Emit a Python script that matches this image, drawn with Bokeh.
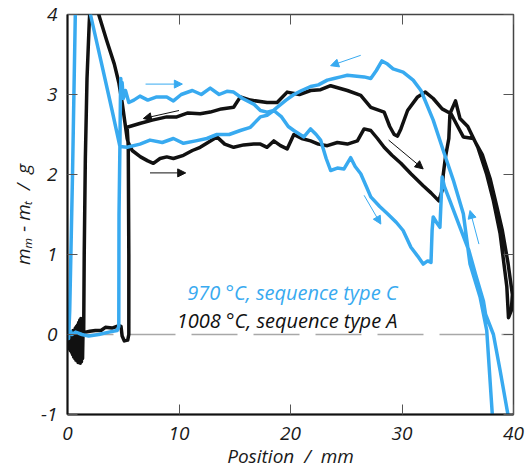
from bokeh.plotting import figure
from bokeh.models import Range1d, LinearAxis, FixedTicker, Arrow, NormalHead, Label
from bokeh.embed import file_html
from bokeh.resources import INLINE

# ---------------- data ----------------
x_ticks = [0, 10, 20, 30, 40]
y_ticks = [-1, 0, 1, 2, 3, 4]
y_tick_labels = ["-1", "0", "1", "2", "3", "4"]

zero_x = [0, 40]
zero_y = [0, 0]

# 1008 °C, sequence type A (black)
black_x = [0.00, 0.05, 0.10, 0.15, 0.20, 0.25, 0.30, 0.35, 0.40, 0.45, 0.50, 0.55, 0.60, 0.65,
           0.70, 0.75, 0.80, 0.85, 0.90, 0.95, 1.00, 1.05, 1.10, 1.15, 1.20, 1.25, 1.30, 1.35,
           1.40, 1.45, 1.50, 1.60, 1.75, 1.95, 2.12, 2.80, 3.50, 4.20, 4.60, 4.90, 5.15, 5.35,
           5.45, 5.80, 6.55, 7.20, 7.70, 8.30, 8.90, 9.50, 10.4, 11.2, 11.9, 12.6, 13.4, 14.1,
           14.9, 15.8, 16.7, 17.3, 17.9, 18.5, 19.1, 19.7, 20.3, 21.0, 21.8, 22.5, 23.3, 24.2,
           25.1, 26.0, 26.6, 27.2, 27.8, 28.4, 29.1, 29.9, 30.8, 31.9, 32.6, 33.3, 33.6, 33.7,
           33.9, 34.2, 34.3, 34.8, 35.2, 35.9, 36.8, 37.6, 38.2, 38.8, 39.1, 39.4, 39.55, 39.8,
           39.9, 39.5, 39.0, 38.5, 37.9, 37.2, 36.4, 35.5, 35.0, 34.4, 33.6, 32.8, 32.1, 31.4,
           30.5, 29.9, 29.6, 29.3, 28.9, 28.4, 27.2, 26.3, 25.1, 23.6, 22.7, 21.8, 20.8, 19.7,
           18.8, 17.9, 16.4, 15.5, 14.9, 13.8, 12.8, 11.9, 10.8, 9.8, 8.9, 7.6, 6.55, 5.35,
           5.45, 5.50, 5.50, 5.40, 5.10, 4.90, 4.80, 4.60, 4.00, 3.40, 3.00, 2.50, 2.00, 1.60]
black_y = [-0.05, -0.15, 0.00, -0.18, 0.02, -0.20, 0.00, -0.22, 0.03, -0.25, 0.05, -0.28, 0.05, -0.30,
           0.08, -0.32, 0.10, -0.33, 0.12, -0.35, 0.15, -0.35, 0.18, -0.36, 0.20, -0.34, 0.15, -0.30,
           0.10, 0.00, 1.00, 2.20, 3.20, 3.90, 4.33, 4.00, 3.68, 3.38, 3.15, 2.90, 2.65, 2.45,
           2.40, 2.30, 2.22, 2.17, 2.14, 2.20, 2.22, 2.20, 2.24, 2.30, 2.34, 2.40, 2.47, 2.38,
           2.34, 2.37, 2.38, 2.38, 2.34, 2.42, 2.36, 2.32, 2.50, 2.45, 2.42, 2.38, 2.36, 2.40,
           2.38, 2.42, 2.57, 2.55, 2.45, 2.34, 2.24, 2.14, 2.01, 1.86, 1.77, 1.67, 1.80, 2.00,
           2.22, 2.45, 2.76, 2.92, 2.70, 2.60, 2.34, 2.00, 1.67, 1.26, 0.93, 0.60, 0.21, 0.30,
           0.50, 0.90, 1.30, 1.60, 1.95, 2.25, 2.45, 2.47, 2.60, 2.76, 2.82, 2.95, 3.03, 2.97,
           2.80, 2.57, 2.48, 2.50, 2.60, 2.78, 2.84, 2.99, 3.05, 3.11, 3.06, 3.05, 3.00, 3.03,
           2.90, 2.90, 2.93, 2.97, 2.84, 2.82, 2.78, 2.76, 2.77, 2.72, 2.72, 2.68, 2.64, 2.59,
           2.35, 1.00, 0.00, -0.07, -0.08, -0.02, 0.10, 0.11, 0.08, 0.09, 0.05, 0.05, 0.04, 0.03]

# 970 °C, sequence type C (blue)
blue_x = [0.00, 0.10, 0.20, 0.45, 0.70, 0.82, 2.06, 3.00, 4.00, 4.70, 4.75, 4.78, 4.85, 4.90,
          5.00, 5.20, 5.50, 5.95, 6.50, 7.20, 8.00, 8.90, 9.50, 10.2, 11.2, 12.0, 12.8, 13.6,
          14.3, 14.9, 15.7, 16.7, 17.3, 17.9, 18.5, 19.2, 19.8, 20.3, 21.2, 21.8, 22.3, 22.7,
          23.2, 23.6, 24.2, 24.8, 25.4, 25.8, 26.3, 26.8, 27.2, 28.0, 28.7, 29.5, 30.1, 30.8,
          31.4, 31.9, 32.3, 32.6, 32.7, 32.8, 33.1, 33.4, 33.6, 33.8, 34.3, 35.2, 36.0, 36.6,
          37.3, 37.5, 38.2, 38.8, 39.5, 39.7, 38.3, 38.1, 37.6, 37.0, 36.1, 35.5, 34.6, 33.7,
          32.8, 31.7, 31.0, 30.1, 29.2, 28.7, 28.2, 27.7, 27.2, 26.6, 25.1, 24.5, 23.9, 23.3,
          22.5, 21.8, 21.0, 20.3, 19.6, 18.8, 18.3, 17.9, 17.3, 16.4, 15.5, 14.5, 13.4, 12.5,
          11.5, 10.4, 9.50, 8.50, 7.40, 6.50, 5.35, 4.70, 4.62, 4.60, 4.45, 3.70, 2.80, 1.90,
          1.30, 0.72, 0.40, 0.25]
blue_y = [0.05, -0.05, 0.30, 2.00, 4.00, 4.80, 4.00, 3.42, 2.80, 2.35, 3.00, 3.20, 2.95, 3.15,
          2.95, 3.05, 2.90, 2.93, 2.98, 2.93, 2.97, 2.97, 2.92, 3.00, 3.05, 3.00, 3.08, 3.00,
          3.04, 3.03, 2.95, 2.88, 2.80, 2.78, 2.80, 2.72, 2.60, 2.55, 2.47, 2.57, 2.50, 2.43,
          2.20, 2.05, 2.08, 2.07, 2.21, 2.10, 2.01, 1.85, 1.72, 1.60, 1.51, 1.40, 1.30, 1.09,
          0.98, 0.88, 0.92, 0.90, 1.30, 1.47, 1.40, 1.34, 1.97, 1.85, 1.67, 1.34, 1.05, 0.75,
          0.42, 0.25, 0.00, -0.45, -1.00, -1.30, -1.30, -1.00, 0.05, 0.47, 0.88, 1.51, 1.93, 2.30,
          2.68, 3.05, 3.18, 3.28, 3.32, 3.38, 3.42, 3.30, 3.20, 3.22, 3.24, 3.22, 3.20, 3.18,
          3.12, 3.10, 3.05, 3.00, 2.93, 2.84, 2.78, 2.74, 2.72, 2.59, 2.55, 2.50, 2.50, 2.45,
          2.42, 2.39, 2.45, 2.40, 2.43, 2.38, 2.34, 2.35, 1.50, 0.10, 0.05, 0.03, 0.00, -0.02,
          0.00, 0.03, 0.00, 0.05]

# direction arrows: start x, start y, end x, end y
black_arrow_x0 = [7.4, 10.0, 28.8]
black_arrow_y0 = [2.02, 2.80, 2.43]
black_arrow_x1 = [10.6, 6.8, 31.9]
black_arrow_y1 = [2.02, 2.70, 2.07]

blue_arrow_x0 = [7.0, 26.3, 26.6, 36.9]
blue_arrow_y0 = [3.13, 3.49, 1.74, 1.13]
blue_arrow_x1 = [10.3, 23.6, 28.1, 36.1]
blue_arrow_y1 = [3.13, 3.36, 1.38, 1.55]

legend_texts = ["970 °C, sequence type C", "1008 °C, sequence type A"]
legend_x = [29.6, 29.6]
legend_y = [0.53, 0.17]

BLUE = "#38aaf0"
BLACK = "#111111"
FONT = "Open Sans"

p = figure(width=529, height=472, output_backend="svg", toolbar_location=None,
           x_range=Range1d(0, 40), y_range=Range1d(-1, 4),
           min_border_left=67, min_border_right=16, min_border_top=14, min_border_bottom=58)
p.grid.visible = False
p.background_fill_color = "white"
p.border_fill_color = "white"
p.outline_line_color = "#444444"
p.outline_line_width = 1.5

for ax, ticks in ((p.xaxis[0], x_ticks), (p.yaxis[0], y_ticks)):
    ax.ticker = FixedTicker(ticks=ticks)
    ax.major_tick_in = 10
    ax.major_tick_out = 0
    ax.minor_tick_line_color = None
    ax.major_tick_line_color = "#555555"
    ax.axis_line_color = BLACK
    ax.axis_line_width = 2
    ax.major_label_text_font = FONT
    ax.major_label_text_font_style = "italic"
    ax.major_label_text_font_size = "19px"
    ax.major_label_text_color = "#1a1a1a"
    ax.axis_label_text_font = FONT
    ax.axis_label_text_font_style = "italic"
    ax.axis_label_text_font_size = "19px"
    ax.axis_label_text_color = "#1a1a1a"

p.yaxis[0].major_label_overrides = {t: s for t, s in zip(y_ticks, y_tick_labels)}

p.xaxis[0].axis_label = "Position \u00a0/\u00a0 mm"
p.xaxis[0].major_label_standoff = 12
p.xaxis[0].axis_label_standoff = 0
p.yaxis[0].axis_label = "mₘ - mₜ \u00a0/\u00a0 g"
p.yaxis[0].major_label_standoff = 10
p.yaxis[0].axis_label_standoff = 2

top = LinearAxis(ticker=FixedTicker(ticks=x_ticks), major_tick_in=10, major_tick_out=0,
                 minor_tick_line_color=None, major_tick_line_color="#555555",
                 axis_line_color=None, major_label_standoff=0,
                 major_label_overrides={t: "" for t in x_ticks})
right = LinearAxis(ticker=FixedTicker(ticks=y_ticks), major_tick_in=10, major_tick_out=0,
                   minor_tick_line_color=None, major_tick_line_color="#555555",
                   axis_line_color=None, major_label_standoff=0,
                   major_label_overrides={t: "" for t in y_ticks})
p.add_layout(top, "above")
p.add_layout(right, "right")

p.line(zero_x, zero_y, line_color="#a8a8a8", line_width=1.6, line_dash="46 16")

p.line(black_x, black_y, line_color=BLACK, line_width=3.5, line_join="round")
p.line(blue_x, blue_y, line_color=BLUE, line_width=3.5, line_join="round")

for i in range(len(black_arrow_x0)):
    p.add_layout(Arrow(end=NormalHead(size=8, fill_color=BLACK, line_color=BLACK),
                       x_start=black_arrow_x0[i], y_start=black_arrow_y0[i],
                       x_end=black_arrow_x1[i], y_end=black_arrow_y1[i],
                       line_color=BLACK, line_width=1))
for i in range(len(blue_arrow_x0)):
    p.add_layout(Arrow(end=NormalHead(size=8, fill_color=BLUE, line_color=BLUE),
                       x_start=blue_arrow_x0[i], y_start=blue_arrow_y0[i],
                       x_end=blue_arrow_x1[i], y_end=blue_arrow_y1[i],
                       line_color=BLUE, line_width=1))

for txt, tx, ty, col in zip(legend_texts, legend_x, legend_y, [BLUE, BLACK]):
    p.add_layout(Label(x=tx, y=ty, text=txt, text_align="right", text_baseline="middle",
                       text_font=FONT, text_font_style="italic", text_font_size="20px",
                       text_color=col))

open("out.html", "w").write(file_html(p, INLINE))
